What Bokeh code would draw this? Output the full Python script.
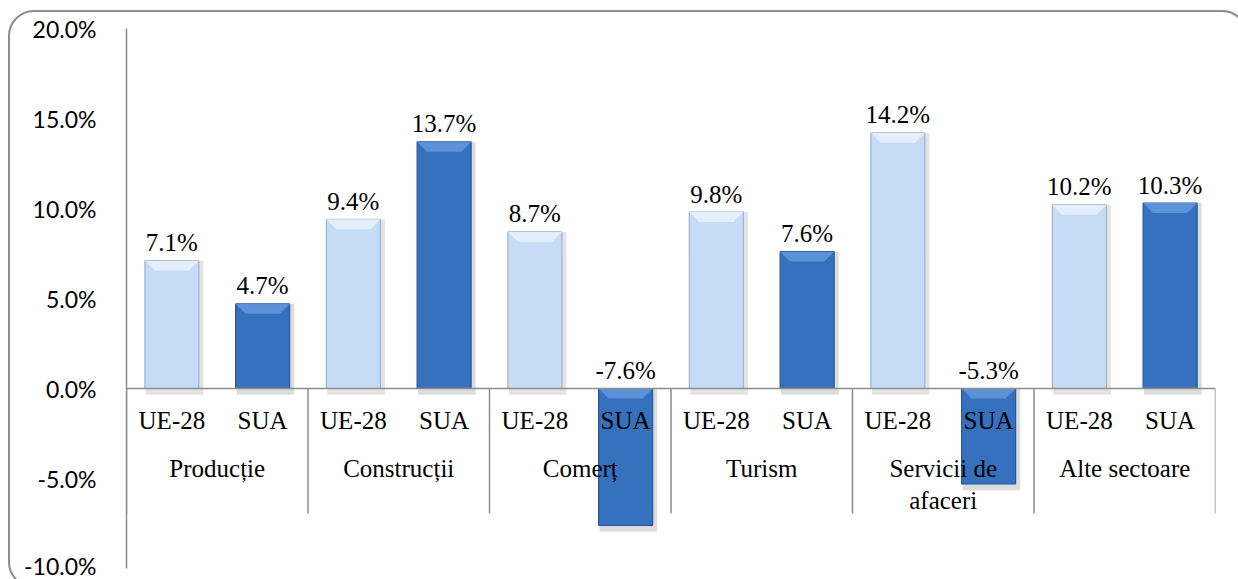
from bokeh.plotting import figure
from bokeh.models import Range1d, PrintfTickFormatter, FixedTicker, Span, InlineStyleSheet
from bokeh.core.properties import value
from bokeh.embed import file_html
from bokeh.resources import INLINE

# ---- data ----
groups = ["Producție", "Construcții", "Comerț", "Turism", "Servicii de\nafaceri", "Alte sectoare"]
series = ["UE-28", "SUA"]
ue28 = [7.1, 9.4, 8.7, 9.8, 14.2, 10.2]
sua = [4.7, 13.7, -7.6, 7.6, -5.3, 10.3]
y_ticks = [-10, -5, 0, 5, 10, 15, 20]

W, H = 1238, 579
p = figure(width=W, height=H, output_backend="svg", toolbar_location=None,
           x_range=Range1d(0, 2 * len(groups)), y_range=Range1d(-10, 20),
           x_axis_location=None, min_border_left=126, min_border_right=23,
           min_border_top=28, min_border_bottom=11)
p.outline_line_color = None
p.grid.visible = False
p.background_fill_color = "white"
p.border_fill_color = "white"

ya = p.yaxis[0]
ya.ticker = FixedTicker(ticks=y_ticks)
ya.formatter = PrintfTickFormatter(format="%.1f%%")
ya.major_tick_line_color = None
ya.minor_tick_line_color = None
ya.axis_line_color = "#8c8c8c"
ya.axis_line_width = 1.5
ya.major_label_standoff = 24
ya.major_label_text_font = "Lato"
ya.major_label_text_font_size = "23px"
ya.major_label_text_color = "black"

# bar geometry (data units)
bw = 0.595
bev_h = 0.55   # bevel height (% units)
bev_d = 0.11   # bevel inset (x units)

styles = {
    "UE-28": dict(fill="#c6dcf6", line="#9db3d0", bevel="#e8f1fc", shadow="#b0b0b0"),
    "SUA": dict(fill="#3671bd", line="#25579b", bevel="#5f96da", shadow="#9a9a9a"),
}

for si, (name, vals) in enumerate(zip(series, [ue28, sua])):
    xs = [2 * gi + 0.5 + si for gi in range(len(groups))]
    tops = [max(v, 0) for v in vals]
    bots = [min(v, 0) for v in vals]
    st = styles[name]
    # soft shadow
    p.vbar(x=[x + 0.03 for x in xs], width=bw + 0.04, top=tops,
           bottom=[b - 0.35 if b < 0 else -0.35 for b in bots],
           fill_color=st["shadow"], fill_alpha=0.35, line_color=None)
    p.vbar(x=xs, width=bw, top=tops, bottom=bots,
           fill_color=st["fill"], line_color=st["line"], line_width=1.2)
    # top bevel
    bx, by = [], []
    for x, t in zip(xs, tops):
        bx.append([x - bw / 2, x + bw / 2, x + bw / 2 - bev_d, x - bw / 2 + bev_d])
        by.append([t, t, t - bev_h, t - bev_h])
    p.patches(bx, by, fill_color=st["bevel"], line_color=None, fill_alpha=0.9)
    # value labels
    p.text(x=xs, y=tops, text=[f"{v:.1f}%" for v in vals],
           text_font=value("Liberation Serif"), text_font_size="25px",
           text_color="black", text_align="center", text_baseline="alphabetic",
           y_offset=-18)

# category axis
p.add_layout(Span(location=0, dimension="width", line_color="#8c8c8c", line_width=1.5))
sep_x = [2 * i for i in range(len(groups) + 1)]
p.segment(x0=sep_x, y0=[0] * len(sep_x), x1=sep_x, y1=[-6.95] * len(sep_x),
          line_color="#8c8c8c", line_width=1.5)

sx, st_ = [], []
for gi in range(len(groups)):
    for si, name in enumerate(series):
        sx.append(2 * gi + 0.5 + si)
        st_.append(name)
p.text(x=sx, y=[0] * len(sx), text=st_, text_font=value("Liberation Serif"),
       text_font_size="25px", text_color="black", text_align="center",
       text_baseline="middle", y_offset=32)
p.text(x=[2 * gi + 1 for gi in range(len(groups))], y=[0] * len(groups), text=groups,
       text_font=value("Liberation Serif"), text_font_size="25px", text_color="black",
       text_align="center", text_baseline="top", y_offset=66, text_line_height=1.2)

# rounded chart border (CSS overlay, clipped to the figure)
p.stylesheets = [InlineStyleSheet(css="""
:host { overflow: hidden; }
:host::after {
  content: "";
  position: absolute;
  left: 8px; top: 10px;
  width: 1240px; height: 578px;
  border: 2px solid #8c8c8c;
  border-radius: 26px;
  pointer-events: none;
  box-sizing: border-box;
}
""")]

open("out.html", "w").write(file_html(p, INLINE))
